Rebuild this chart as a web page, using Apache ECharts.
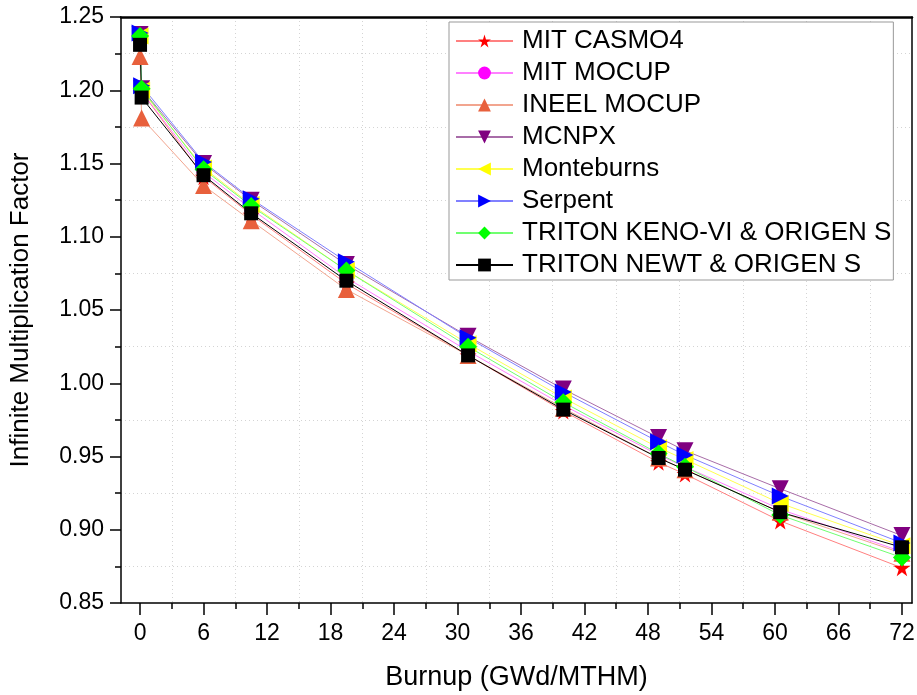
<!DOCTYPE html>
<html>
<head>
<meta charset="utf-8">
<script src="https://cdn.jsdelivr.net/npm/echarts@6/dist/echarts.min.js"></script>
<style>
html,body{margin:0;padding:0;background:#fff;}
#chart{width:917px;height:695px;}
</style>
</head>
<body>
<div id="chart"></div>
<script>
// Burnup points (GWd/MTHM)
const burnup = [0, 0.15, 6, 10.5, 19.5, 31, 40, 49, 51.5, 60.5, 72];

// Infinite multiplication factor per code
const mitCasmo4   = [1.236, 1.199, 1.141, 1.115, 1.068, 1.019, 0.981, 0.946, 0.938, 0.906, 0.874];
const mitMocup    = [1.237, 1.199, 1.144, 1.119, 1.072, 1.022, 0.985, 0.951, 0.943, 0.914, 0.885];
const ineelMocup  = [1.223, 1.181, 1.135, 1.111, 1.064, 1.019, 0.983, 0.949, 0.941, 0.912, 0.884];
const mcnpx       = [1.238, 1.201, 1.150, 1.125, 1.081, 1.032, 0.996, 0.963, 0.954, 0.928, 0.896];
const monteburns  = [1.237, 1.200, 1.147, 1.122, 1.077, 1.027, 0.990, 0.956, 0.948, 0.918, 0.889];
const serpent     = [1.239, 1.203, 1.151, 1.126, 1.083, 1.031, 0.994, 0.960, 0.951, 0.923, 0.891];
const tritonKeno  = [1.237, 1.201, 1.146, 1.121, 1.077, 1.025, 0.987, 0.952, 0.943, 0.910, 0.881];
const tritonNewt  = [1.231, 1.195, 1.142, 1.116, 1.070, 1.019, 0.982, 0.949, 0.941, 0.912, 0.888];

// Axis tick values
const xMajorTicks = [0, 6, 12, 18, 24, 30, 36, 42, 48, 54, 60, 66, 72];
const xMinorTicks = [3, 9, 15, 21, 27, 33, 39, 45, 51, 57, 63, 69];

const seriesNames = ['MIT CASMO4', 'MIT MOCUP', 'INEEL MOCUP', 'MCNPX', 'Monteburns', 'Serpent',
  'TRITON KENO-VI & ORIGEN S', 'TRITON NEWT & ORIGEN S'];
const seriesValues = [mitCasmo4, mitMocup, ineelMocup, mcnpx, monteburns, serpent, tritonKeno, tritonNewt];

const STAR = 'path://M50,0 L61.2,34.5 L97.6,34.5 L68.2,55.9 L79.4,90.5 L50,69.1 L20.6,90.5 L31.8,55.9 L2.4,34.5 L38.8,34.5 Z';
const styles = [
  {symbol: STAR, size: 17, rot: 0, mk: '#ff0000', ln: '#ff8080'},
  {symbol: 'circle', size: 14, rot: 0, mk: '#ff00ff', ln: '#ff80ff'},
  {symbol: 'triangle', size: 17, rot: 0, mk: '#e8603c', ln: '#f2a58f'},
  {symbol: 'triangle', size: 17, rot: 180, mk: '#800080', ln: '#a86ca8'},
  {symbol: 'triangle', size: 17, rot: 90, mk: '#ffff00', ln: '#ffff50'},
  {symbol: 'triangle', size: 17, rot: -90, mk: '#0000ff', ln: '#8080ff'},
  {symbol: 'diamond', size: 18, rot: 0, mk: '#00ff00', ln: '#70ff70'},
  {symbol: 'rect', size: 14, rot: 0, mk: '#000000', ln: '#000000'}
];

const FONT = 'Liberation Sans, Arial, sans-serif';
const xMin = -1.8, xMax = 72.95;
const gridDots = {color: '#d4d4d4', type: [1, 3], width: 1};

const series = seriesNames.map((name, i) => ({
  name: name,
  type: 'line',
  xAxisIndex: 0,
  yAxisIndex: 0,
  data: burnup.map((b, j) => [b, seriesValues[i][j]]),
  symbol: styles[i].symbol,
  symbolSize: styles[i].size,
  symbolRotate: styles[i].rot,
  showAllSymbol: true,
  animation: false,
  itemStyle: {color: styles[i].mk, borderWidth: 0},
  lineStyle: {color: styles[i].ln, width: 1},
  emphasis: {disabled: true}
}));

const chart = echarts.init(document.getElementById('chart'), null, {renderer: 'canvas'});
chart.setOption({
  animation: false,
  backgroundColor: '#ffffff',
  grid: {left: 121, right: 5, top: 17, bottom: 92, containLabel: false, outerBoundsMode: 'none'},
  legend: {
    orient: 'vertical',
    left: 449,
    top: 22,
    padding: [6, 2, 2, 6],
    itemGap: 6,
    itemWidth: 57,
    itemHeight: 16,
    backgroundColor: '#ffffff',
    borderColor: '#999999',
    borderWidth: 1,
    data: seriesNames,
    textStyle: {fontFamily: FONT, fontSize: 26, color: '#000', padding: [0, 0, 0, 4]},
    selectedMode: false
  },
  xAxis: [
    {
      type: 'value', position: 'bottom', min: xMin, max: xMax,
      name: 'Burnup (GWd/MTHM)', nameLocation: 'middle', nameGap: 61,
      nameTextStyle: {fontFamily: FONT, fontSize: 27, color: '#000'},
      axisLine: {show: true, onZero: false, lineStyle: {color: '#000', width: 1.5}},
      axisTick: {show: true, inside: false, length: 12, customValues: xMajorTicks, lineStyle: {color: '#000', width: 1.5}},
      axisLabel: {show: true, customValues: xMajorTicks, margin: 19, fontFamily: FONT, fontSize: 23, color: '#000'},
      splitLine: {show: false}
    },
    {
      type: 'value', position: 'bottom', min: xMin, max: xMax,
      axisLine: {show: false, onZero: false},
      axisTick: {show: true, inside: false, length: 6, customValues: xMinorTicks, lineStyle: {color: '#000', width: 1.5}},
      axisLabel: {show: false, customValues: xMinorTicks},
      splitLine: {show: true, lineStyle: gridDots}
    },
    {
      type: 'value', position: 'top', min: xMin, max: xMax,
      axisLine: {show: true, onZero: false, lineStyle: {color: '#000', width: 2.5}},
      axisTick: {show: false}, axisLabel: {show: false}, splitLine: {show: false}
    }
  ],
  yAxis: [
    {
      type: 'value', position: 'left', min: 0.85, max: 1.25, interval: 0.05,
      name: 'Infinite Multiplication Factor', nameLocation: 'middle', nameGap: 87, nameRotate: 90,
      nameTextStyle: {fontFamily: FONT, fontSize: 26, color: '#000'},
      axisLine: {show: true, onZero: false, lineStyle: {color: '#000', width: 1.5}},
      axisTick: {show: true, inside: false, length: 11, lineStyle: {color: '#000', width: 1.5}},
      minorTick: {show: true, splitNumber: 2, length: 6, lineStyle: {color: '#000', width: 1.5}},
      axisLabel: {show: true, margin: 17, fontFamily: FONT, fontSize: 23, color: '#000',
        formatter: v => v.toFixed(2)},
      splitLine: {show: false},
      minorSplitLine: {show: true, lineStyle: gridDots}
    },
    {
      type: 'value', position: 'right', min: 0.85, max: 1.25, interval: 0.05,
      axisLine: {show: true, onZero: false, lineStyle: {color: '#000', width: 1.5}},
      axisTick: {show: false}, axisLabel: {show: false}, splitLine: {show: false}
    }
  ],
  series: series
});
</script>
</body>
</html>
